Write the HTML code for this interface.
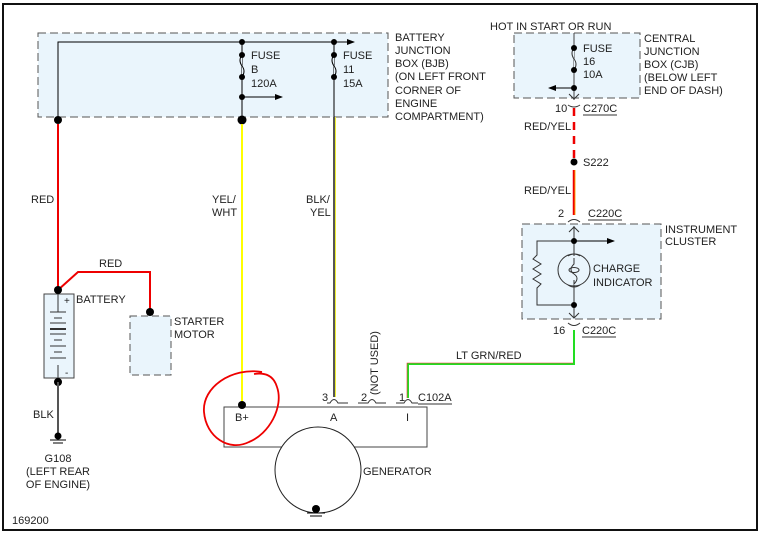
<!DOCTYPE html>
<html><head><style>body{margin:0;background:#fff}svg{display:block}text{font-family:"Liberation Sans",sans-serif;font-size:11px;fill:#222}</style></head><body>
<svg width="773" height="541" viewBox="0 0 773 541">
<defs><marker id="ar" markerWidth="8" markerHeight="8" refX="7" refY="4" orient="auto" markerUnits="userSpaceOnUse"><path d="M0,1 L8,4 L0,7z" fill="#000"/></marker></defs>
<rect x="3" y="4" width="754" height="526" fill="#fff" stroke="#111" stroke-width="2"/>
<!-- BJB -->
<rect x="38" y="33" width="350" height="84" fill="#eaf5fc" stroke="#555" stroke-dasharray="8,4"/>
<polyline points="58,120 58,42 354,42" fill="none" stroke="#000" marker-end="url(#ar)"/>
<line x1="242" y1="42" x2="242" y2="120" stroke="#000"/>
<path d="M242,55 q-4,5 0,11 q4,5 0,11" fill="#eaf5fc" stroke="#000"/>
<line x1="242" y1="97" x2="282" y2="97" stroke="#000" marker-end="url(#ar)"/>
<line x1="334" y1="42" x2="334" y2="117" stroke="#000"/>
<path d="M334,55 q-4,5 0,11 q4,5 0,11" fill="#eaf5fc" stroke="#000"/>
<g fill="#000"><circle cx="242" cy="42" r="3"/><circle cx="242" cy="55" r="3"/><circle cx="242" cy="77" r="3"/><circle cx="242" cy="97" r="3"/><circle cx="334" cy="42" r="3"/><circle cx="334" cy="55" r="3"/><circle cx="334" cy="77" r="3"/><circle cx="58" cy="120" r="4"/><circle cx="242" cy="120" r="4.5"/></g>
<text x="251" y="59">FUSE</text><text x="251" y="73">B</text><text x="251" y="87">120A</text>
<text x="343" y="59">FUSE</text><text x="343" y="73">11</text><text x="343" y="87">15A</text>
<text x="395" y="41">BATTERY</text><text x="395" y="54">JUNCTION</text><text x="395" y="67">BOX (BJB)</text><text x="395" y="80">(ON LEFT FRONT</text><text x="395" y="94">CORNER OF</text><text x="395" y="107">ENGINE</text><text x="395" y="120">COMPARTMENT)</text>
<!-- wires -->
<line x1="58" y1="124" x2="58" y2="290" stroke="#e00" stroke-width="2"/>
<text x="31" y="203">RED</text>
<line x1="242" y1="124" x2="242" y2="405" stroke="#ff0" stroke-width="2"/>
<text x="212" y="203">YEL/</text><text x="212" y="216">WHT</text>
<line x1="334" y1="117" x2="334" y2="397" stroke="#555" stroke-width="2"/>
<line x1="335.5" y1="117" x2="335.5" y2="397" stroke="#ee3" stroke-width="1"/>
<text x="306" y="203">BLK/</text><text x="310" y="216">YEL</text>
<!-- battery -->
<polyline points="58,290 78,272 150,272 150,312" fill="none" stroke="#e00" stroke-width="2"/>
<text x="99" y="267">RED</text>
<rect x="44" y="294" width="30" height="84" fill="#eaf5fc" stroke="#444"/>
<g stroke="#333"><line x1="58" y1="294" x2="58" y2="312"/><line x1="50" y1="312" x2="66" y2="312"/><line x1="54" y1="318" x2="62" y2="318"/><line x1="50" y1="323" x2="66" y2="323"/><line x1="50" y1="329" x2="66" y2="329" stroke-width="2"/><line x1="50" y1="334" x2="66" y2="334"/><line x1="54" y1="340" x2="62" y2="340"/><line x1="50" y1="346" x2="66" y2="346"/><line x1="54" y1="352" x2="62" y2="352"/><line x1="50" y1="358" x2="66" y2="358"/><line x1="58" y1="365" x2="58" y2="378"/></g>
<text x="64" y="304" style="font-size:10px">+</text><text x="65" y="376" style="font-size:10px">-</text>
<text x="76" y="303">BATTERY</text>
<rect x="130" y="316" width="41" height="59" fill="#eaf5fc" stroke="#555" stroke-dasharray="7,4"/>
<text x="174" y="325">STARTER</text><text x="174" y="338">MOTOR</text>
<circle cx="58" cy="290" r="4" fill="#000"/><circle cx="150" cy="312" r="4" fill="#000"/><circle cx="58" cy="382" r="4" fill="#000"/>
<line x1="58" y1="382" x2="58" y2="434" stroke="#555" stroke-width="2"/>
<text x="33" y="418">BLK</text>
<circle cx="58" cy="436" r="3.5" fill="#000"/><line x1="50" y1="440" x2="66" y2="440" stroke="#000"/><line x1="53" y1="443" x2="63" y2="443" stroke="#000"/>
<text x="58" y="462" text-anchor="middle">G108</text><text x="58" y="475" text-anchor="middle">(LEFT REAR</text><text x="58" y="488" text-anchor="middle">OF ENGINE)</text>
<!-- generator -->
<rect x="224" y="407" width="203" height="40" fill="#fff" stroke="#444"/>
<circle cx="318" cy="470" r="43" fill="#fff" stroke="#222"/>
<circle cx="316" cy="509" r="4" fill="#000"/><line x1="307" y1="513" x2="325" y2="513" stroke="#000"/><line x1="310" y1="516" x2="322" y2="516" stroke="#000"/>
<text x="363" y="475">GENERATOR</text>
<circle cx="242" cy="405" r="4" fill="#000"/>
<text x="235" y="421">B+</text><text x="330" y="421">A</text><text x="406" y="421">I</text>
<g fill="none" stroke="#333"><path d="M327,403 h3 q4,-7 8,0 h10"/><path d="M358,403 h10 q4,-7 8,0 h10"/><path d="M396,403 h8 q4,-7 8,0 h6"/></g>
<text x="322" y="401">3</text><text x="361" y="401">2</text><text x="399" y="401">1</text>
<text x="418" y="401">C102A</text><line x1="418" y1="404" x2="452" y2="404" stroke="#333"/>
<text transform="translate(378,395) rotate(-90)">(NOT USED)</text>
<polyline points="408,398 408,364 574,364 574,330" fill="none" stroke="#2d2" stroke-width="2"/>
<polyline points="407,398 407,363 573,363" fill="none" stroke="#e33" stroke-width="0.6"/>
<text x="456" y="359">LT GRN/RED</text>
<path d="M262,372 c-30,-5 -60,15 -58,40 c2,25 25,40 45,30 c20,-8 35,-35 28,-55 c-3,-10 -10,-15 -23,-13" fill="none" stroke="#e00" stroke-width="1.8"/>
<!-- CJB -->
<text x="490" y="30">HOT IN START OR RUN</text>
<rect x="514" y="33" width="126" height="65" fill="#eaf5fc" stroke="#555" stroke-dasharray="8,4"/>
<line x1="574" y1="33" x2="574" y2="100" stroke="#444"/>
<path d="M574,48 q-4,5 0,11 q4,5 0,11" fill="#eaf5fc" stroke="#333"/>
<line x1="574" y1="88" x2="549" y2="88" stroke="#000" marker-end="url(#ar)"/>
<g fill="#000"><circle cx="574" cy="48" r="3"/><circle cx="574" cy="70" r="3"/><circle cx="574" cy="88" r="3"/></g>
<path d="M569,94 l5,5 l5,-5" fill="none" stroke="#333"/>
<text x="583" y="52">FUSE</text><text x="583" y="65">16</text><text x="583" y="78">10A</text>
<text x="644" y="42">CENTRAL</text><text x="644" y="55">JUNCTION</text><text x="644" y="68">BOX (CJB)</text><text x="644" y="81">(BELOW LEFT</text><text x="644" y="94">END OF DASH)</text>
<path d="M568,105 q6,4 12,0" fill="none" stroke="#333"/>
<text x="555" y="112">10</text><text x="583" y="112">C270C</text><line x1="583" y1="115" x2="617" y2="115" stroke="#333"/>
<line x1="574" y1="108" x2="574" y2="160" stroke="#e00" stroke-width="2.5" stroke-dasharray="8,6"/>
<circle cx="574" cy="162" r="3.5" fill="#000"/><text x="583" y="166">S222</text>
<line x1="574" y1="170" x2="574" y2="215" stroke="#e00" stroke-width="2.5"/>
<line x1="575" y1="170" x2="575" y2="215" stroke="#fb0" stroke-width="0.8"/>
<text x="524" y="130">RED/YEL</text><text x="524" y="194">RED/YEL</text>
<text x="558" y="217">2</text><text x="588" y="217">C220C</text><line x1="588" y1="220" x2="622" y2="220" stroke="#333"/>
<path d="M568,222 q6,-5 12,0" fill="none" stroke="#333"/>
<!-- cluster -->
<rect x="522" y="224" width="139" height="95" fill="#eaf5fc" stroke="#555" stroke-dasharray="8,4"/>
<line x1="574" y1="226" x2="574" y2="256" stroke="#333"/>
<path d="M569,232 l5,-5 l5,5" fill="none" stroke="#333"/>
<line x1="574" y1="241" x2="614" y2="241" stroke="#000" marker-end="url(#ar)"/>
<polyline points="574,241 537,241 537,255 533,259 541,264 533,269 541,274 533,279 541,284 537,288 537,305 574,305" fill="none" stroke="#333"/>
<circle cx="574" cy="270" r="16" fill="none" stroke="#333"/>
<path d="M568,256 q6,-4 12,0 M568,285 q6,4 12,0" fill="none" stroke="#333"/>
<path d="M574,258 v6 q-6,6 0,10 q6,4 0,10 v-4" fill="none" stroke="#333"/>
<ellipse cx="574" cy="270" rx="5" ry="2.5" fill="none" stroke="#333"/>
<line x1="574" y1="285" x2="574" y2="318" stroke="#333"/>
<path d="M569,313 l5,5 l5,-5" fill="none" stroke="#333"/>
<circle cx="574" cy="241" r="3" fill="#000"/><circle cx="574" cy="305" r="3" fill="#000"/>
<text x="593" y="272">CHARGE</text><text x="593" y="286">INDICATOR</text>
<text x="665" y="233">INSTRUMENT</text><text x="665" y="245">CLUSTER</text>
<path d="M568,323 q6,5 12,0" fill="none" stroke="#333"/>
<text x="553" y="334">16</text><text x="582" y="334">C220C</text><line x1="582" y1="337" x2="616" y2="337" stroke="#333"/>
<text x="12" y="524">169200</text>
</svg>
</body></html>
